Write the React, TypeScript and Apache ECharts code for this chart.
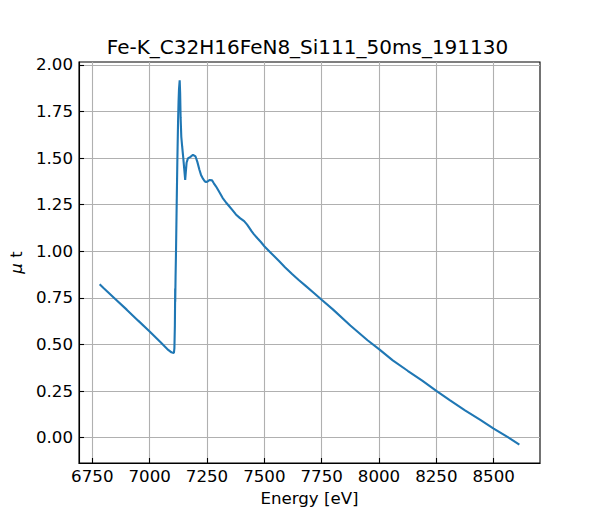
import React, { useEffect, useRef } from "react";
import * as echarts from "echarts";

const TITLE = "Fe-K_C32H16FeN8_Si111_50ms_191130";
const X_LABEL = "Energy [eV]";
const X_TICKS = [6750, 7000, 7250, 7500, 7750, 8000, 8250, 8500];
const Y_TICKS = [0, 0.25, 0.5, 0.75, 1.0, 1.25, 1.5, 1.75, 2.0];

const energy = [
  6782, 6800, 6850, 6900, 6950, 7000, 7050, 7081, 7095, 7102, 7106, 7108, 7110,
  7111, 7111.3, 7111.6, 7113, 7115, 7118, 7121, 7124, 7126, 7128, 7131, 7133,
  7135, 7138, 7142, 7146, 7151, 7155, 7158, 7161, 7167, 7178, 7189, 7200, 7208,
  7217, 7224, 7231, 7240, 7246, 7253, 7262, 7272, 7280, 7289, 7300, 7318, 7333,
  7347, 7362, 7376, 7394, 7412, 7425, 7434, 7445, 7455, 7470, 7485, 7501, 7530,
  7563, 7590, 7621, 7650, 7679, 7715, 7750, 7800, 7875, 7950, 8000, 8060, 8125,
  8190, 8250, 8310, 8375, 8440, 8500, 8560, 8612,
];
const mu = [
  0.823, 0.802, 0.744, 0.687, 0.628, 0.57, 0.509, 0.471, 0.458, 0.455, 0.456,
  0.48, 0.6, 0.74, 0.8, 0.73, 0.86, 1.0, 1.26, 1.5, 1.7, 1.8, 1.87, 1.918, 1.85,
  1.72, 1.615, 1.56, 1.51, 1.44, 1.383, 1.43, 1.475, 1.499, 1.507, 1.518, 1.509,
  1.48, 1.438, 1.41, 1.393, 1.376, 1.372, 1.375, 1.383, 1.381, 1.365, 1.349,
  1.326, 1.287, 1.262, 1.242, 1.22, 1.198, 1.178, 1.162, 1.143, 1.127, 1.107,
  1.091, 1.07, 1.05, 1.026, 0.99, 0.949, 0.915, 0.878, 0.846, 0.816, 0.778,
  0.74, 0.687, 0.602, 0.523, 0.475, 0.415, 0.359, 0.305, 0.251, 0.2, 0.147,
  0.097, 0.049, 0.004, -0.038,
];

const FONT = "DejaVu Sans";

export default function App() {
  const ref = useRef<HTMLDivElement>(null);
  useEffect(() => {
    if (!ref.current) return;
    const chart = echarts.init(ref.current, undefined, { renderer: "svg" });
    const data = energy.map((e, i) => [e, mu[i]]);
    chart.setOption({
      animation: false,
      backgroundColor: "#ffffff",
      grid: {
        left: 75,
        top: 62,
        width: 465,
        height: 401,
        show: true,
        borderColor: "#000000",
        borderWidth: 1.1,
        backgroundColor: "transparent",
      },
      graphic: [
        {
          type: "text",
          x: 307.5,
          y: 47,
          style: {
            text: TITLE,
            fontFamily: FONT,
            fontSize: 20,
            fill: "#000",
            textAlign: "center",
            textVerticalAlign: "middle",
          },
        },
      ],
      xAxis: {
        type: "value",
        min: 6692,
        max: 8702,
        name: X_LABEL,
        nameLocation: "middle",
        nameGap: 27,
        nameTextStyle: { fontFamily: FONT, fontSize: 16.67, color: "#000" },
        axisLine: { show: true, onZero: false, lineStyle: { color: "#000", width: 1.1 } },
        axisTick: {
          show: true,
          inside: true,
          length: 5,
          customValues: X_TICKS,
          lineStyle: { color: "#000", width: 1.1 },
        },
        axisLabel: {
          customValues: X_TICKS,
          fontFamily: FONT,
          fontSize: 16.67,
          color: "#000",
          margin: 5,
          formatter: (v: number) => String(v),
        },
        splitLine: { show: true, lineStyle: { color: "#b0b0b0", width: 1.1 } },
      },
      yAxis: {
        type: "value",
        min: -0.136,
        max: 2.016,
        name: "{i|μ} t",
        nameLocation: "middle",
        nameRotate: 90,
        nameGap: 54,
        nameTextStyle: {
          fontFamily: FONT,
          fontSize: 16.67,
          color: "#000",
          rich: {
            i: { fontFamily: FONT, fontSize: 16.67, fontStyle: "italic", color: "#000" },
          },
        },
        axisLine: { show: true, onZero: false, lineStyle: { color: "#000", width: 1.1 } },
        axisTick: {
          show: true,
          inside: true,
          length: 5,
          customValues: Y_TICKS,
          lineStyle: { color: "#000", width: 1.1 },
        },
        axisLabel: {
          customValues: Y_TICKS,
          fontFamily: FONT,
          fontSize: 16.67,
          color: "#000",
          margin: 6,
          formatter: (v: number) => v.toFixed(2),
        },
        splitLine: { show: true, lineStyle: { color: "#b0b0b0", width: 1.1 } },
      },
      series: [
        {
          type: "line",
          data,
          showSymbol: false,
          symbol: "none",
          lineStyle: { color: "#1f77b4", width: 2.1 },
          z: 3,
        },
      ],
    });
    return () => chart.dispose();
  }, []);
  return (
    <div
      ref={ref}
      style={{ position: "absolute", left: 0, top: 0, width: 600, height: 520 }}
    />
  );
}
